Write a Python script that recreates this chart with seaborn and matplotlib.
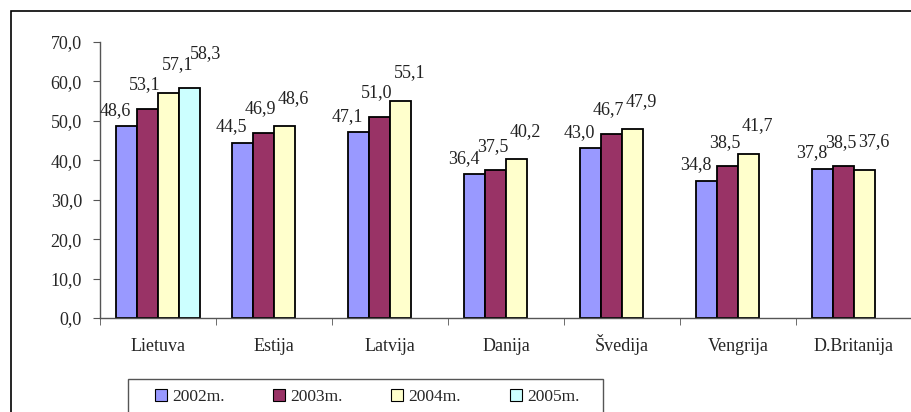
import matplotlib
matplotlib.use("Agg")
import matplotlib.pyplot as plt
import seaborn as sns
import pandas as pd
import numpy as np
from matplotlib.patches import Rectangle

categories = ["Lietuva", "Estija", "Latvija", "Danija", "Švedija", "Vengrija", "D.Britanija"]
years = ["2002m.", "2003m.", "2004m.", "2005m."]
v2002 = [48.6, 44.5, 47.1, 36.4, 43.0, 34.8, 37.8]
v2003 = [53.1, 46.9, 51.0, 37.5, 46.7, 38.5, 38.5]
v2004 = [57.1, 48.6, 55.1, 40.2, 47.9, 41.7, 37.6]
v2005 = [58.3, None, None, None, None, None, None]
yticks = [0, 10, 20, 30, 40, 50, 60, 70]

colors = ["#9999FF", "#993366", "#FFFFCC", "#CCFFFF"]
# label nudges per series (pixels), mimicking Excel's staggered labels
label_dx = [-11, -3, 9, 16]
label_dy = [16, 24, 28, 35]

rows = []
for yr, vals in zip(years, [v2002, v2003, v2004, v2005]):
    for c, v in zip(categories, vals):
        rows.append({"cat": c, "year": yr, "val": np.nan if v is None else v})
df = pd.DataFrame(rows)

sns.set_style("white")
plt.rcParams["font.family"] = ["Liberation Serif", "DejaVu Serif"]
FS = 13

W, H = 912, 412
fig = plt.figure(figsize=(W / 100, H / 100), dpi=100)
ax = fig.add_axes([100 / W, (H - 318) / H, (912 - 100) / W, (318 - 42) / H])

sns.barplot(data=df, x="cat", y="val", hue="year", hue_order=years, order=categories,
            palette=colors, width=0.724, edgecolor="black", linewidth=1.3,
            saturation=1, ax=ax, legend=False)

ax.set_ylim(0, 70)
ax.set_xlim(-0.5, len(categories) - 0.5)
ax.set_yticks(yticks)
ax.set_yticklabels([f"{t:.1f}".replace(".", ",") for t in yticks], fontsize=FS)
ax.set_xticks(range(len(categories)))
ax.set_xticklabels(categories, fontsize=FS)
for lab in ax.get_xticklabels():
    lab.set_verticalalignment("baseline")
ax.tick_params(axis="x", length=0, pad=24)
ax.set_xticks(np.arange(len(categories)) - 0.5, minor=True)
ax.tick_params(axis="x", which="minor", length=5, color="#555555", direction="out", bottom=True)
ax.tick_params(axis="y", length=5, color="#555555", direction="out", left=True, pad=8)
ax.set_xlabel("")
ax.set_ylabel("")
for s in ["top", "right"]:
    ax.spines[s].set_visible(False)
for s in ["left", "bottom"]:
    ax.spines[s].set_color("#555555")
    ax.spines[s].set_linewidth(1.0)

for k, cont in enumerate(ax.containers):
    for bar in cont:
        h = bar.get_height()
        if np.isnan(h):
            continue
        ax.annotate(f"{h:.1f}".replace(".", ","), (bar.get_x() + bar.get_width() / 2, h),
                    xytext=(label_dx[k], label_dy[k]), textcoords="offset pixels",
                    ha="center", va="center", fontsize=FS, color="#222222")

handles = [Rectangle((0, 0), 1, 1, facecolor=c, edgecolor="black", linewidth=0.8) for c in colors]
fig.legend(handles, years, loc="center left", bbox_to_anchor=(155 / W, (H - 397) / H),
           ncol=4, frameon=False, fontsize=12.5, handlelength=0.69, handleheight=0.69,
           handletextpad=0.3, borderpad=0, columnspacing=2.8, borderaxespad=0)

fig.patches.append(Rectangle((128 / W, -0.1), (603 - 128) / W, (H - 379) / H + 0.1,
                             transform=fig.transFigure, fill=False, edgecolor="#555555",
                             linewidth=1.0, clip_on=False))
fig.patches.append(Rectangle((11 / W, -0.1), 1.2, (H - 11) / H + 0.1, transform=fig.transFigure,
                             fill=False, edgecolor="black", linewidth=1.2, clip_on=False))

fig.savefig("out.png", dpi=100)
